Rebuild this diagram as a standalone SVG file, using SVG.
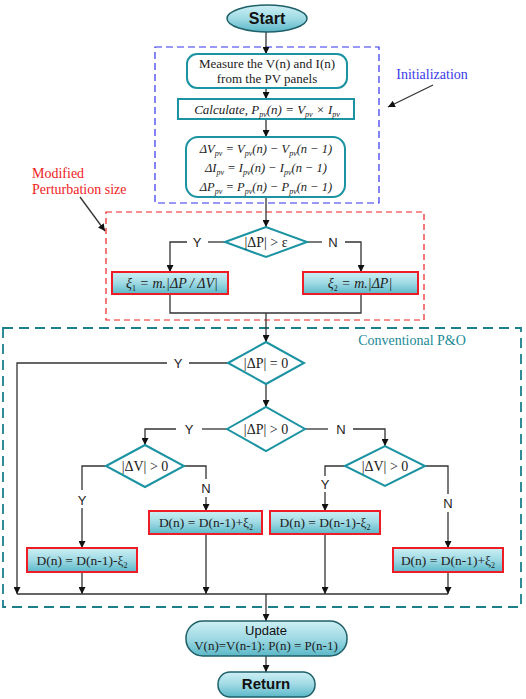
<svg xmlns="http://www.w3.org/2000/svg" width="526" height="699" viewBox="0 0 526 699">
<defs>
<linearGradient id="g" x1="0" y1="0" x2="0" y2="1">
<stop offset="0" stop-color="#cdeff4"/>
<stop offset="0.5" stop-color="#9fdae4"/>
<stop offset="1" stop-color="#5bb8c8"/>
</linearGradient>
<marker id="ar" viewBox="0 0 10 10" refX="10" refY="5" markerWidth="7" markerHeight="7" orient="auto" markerUnits="userSpaceOnUse">
<path d="M0,0 L10,5 L0,10 z" fill="#111"/>
</marker>
<style>
.c{fill:none;stroke:#333;stroke-width:1.3}
.a{marker-end:url(#ar)}
.pill{fill:url(#g);stroke:#1e5f68;stroke-width:1.5}
.bx{fill:#fff;stroke:#1b93a3;stroke-width:2}
.dm{fill:#fff;stroke:#1b93a3;stroke-width:2}
.rb{fill:url(#g);stroke:#ee1c24;stroke-width:2}
.s{font-family:"Liberation Sans",Arial,sans-serif}
.t{font-family:"Liberation Serif","Times New Roman",serif}
.i{font-style:italic}
.lbl{font-family:"Liberation Sans",Arial,sans-serif;font-size:13px;fill:#222;text-anchor:middle}
.eq{font-family:"Liberation Serif","Times New Roman",serif;fill:#222;text-anchor:middle}
.sub{font-size:8px}
</style>
</defs>

<!-- region boxes -->
<rect x="155" y="47" width="224" height="156" fill="none" stroke="#3333ee" stroke-width="1.2" stroke-dasharray="7,4"/>
<rect x="106" y="212" width="318" height="108" fill="none" stroke="#ee2020" stroke-width="1.2" stroke-dasharray="6,4"/>
<rect x="3" y="328" width="518" height="279" fill="none" stroke="#1a7f8a" stroke-width="1.8" stroke-dasharray="10,6"/>
<text x="412" y="345" class="t" font-size="14" fill="#1a8a96" text-anchor="middle">Conventional P&amp;O</text>
<text x="432" y="79" class="t" font-size="14" fill="#3a3ae8" text-anchor="middle">Initialization</text>
<text x="32" y="178" class="t" font-size="14" fill="#ee2222">Modified</text>
<text x="32" y="194" class="t" font-size="14" fill="#ee2222">Perturbation size</text>

<g id="connectors">
<path class="c a" d="M266,32 V54"/>
<path class="c a" d="M266,88 V99"/>
<path class="c a" d="M266,119 V137"/>
<path class="c a" d="M266,197 V227"/>
<path class="c" d="M225,242 H208"/>
<path class="c a" d="M187,242 H170 V272"/>
<path class="c" d="M307,242 H322"/>
<path class="c a" d="M345,242 H361 V272"/>
<path class="c" d="M170,294 V313 H361 V294"/>
<path class="c a" d="M266,313 V342"/>
<path class="c" d="M228,363 H189"/>
<path class="c a" d="M167,363 H17 V594"/>
<path class="c a" d="M266,384 V407"/>
<path class="c" d="M227,429 H202"/>
<path class="c a" d="M176,429 H145 V445"/>
<path class="c" d="M305,429 H328"/>
<path class="c a" d="M353,429 H385 V446"/>
<path class="c" d="M106,466 H82 V490"/>
<path class="c a" d="M82,508 V548"/>
<path class="c" d="M184,466 H206 V479"/>
<path class="c a" d="M206,497 V511"/>
<path class="c" d="M345,466 H325 V476"/>
<path class="c a" d="M325,492 V511"/>
<path class="c" d="M425,466 H448 V494"/>
<path class="c a" d="M448,512 V548"/>
<path class="c a" d="M82,572 V594"/>
<path class="c a" d="M206,534 V594"/>
<path class="c a" d="M325,534 V594"/>
<path class="c a" d="M448,572 V594"/>
<path class="c" d="M17,594 H448"/>
<path class="c a" d="M266,594 V621"/>
<path class="c a" d="M266,656 V672"/>
<path class="c a" d="M433,85 L388,107"/>
<path class="c a" d="M80,197 L105,231"/>
<text x="197" y="247" class="lbl">Y</text>
<text x="333" y="247" class="lbl">N</text>
<text x="178" y="368" class="lbl">Y</text>
<text x="189" y="434" class="lbl">Y</text>
<text x="341" y="434" class="lbl">N</text>
<text x="82" y="505" class="lbl">Y</text>
<text x="206" y="493" class="lbl">N</text>
<text x="325" y="489" class="lbl">Y</text>
<text x="448" y="508" class="lbl">N</text>
</g>

<g id="start">
<ellipse cx="267" cy="18.5" rx="40" ry="13.5" class="pill"/>
<text x="267" y="24" class="s" font-size="16" font-weight="bold" fill="#111" text-anchor="middle">Start</text>
</g>

<g id="measure">
<rect x="187" y="54" width="160" height="34" rx="10" class="bx"/>
<text x="267" y="68" class="eq" font-size="13">Measure the V(n) and I(n)</text>
<text x="267" y="83" class="eq" font-size="13">from the PV panels</text>
</g>

<g id="calculate">
<rect x="178" y="99" width="176" height="20" class="bx"/>
<text x="267" y="114" class="eq i" font-size="13">Calculate, P<tspan class="sub" dy="3">pv</tspan><tspan dy="-3">(n) = V</tspan><tspan class="sub" dy="3">pv</tspan><tspan dy="-3"> × I</tspan><tspan class="sub" dy="3">pv</tspan></text>
</g>

<g id="deltas">
<rect x="186" y="137" width="159" height="60" rx="12" class="bx"/>
<text x="266" y="153" class="eq i" font-size="12.5">ΔV<tspan class="sub" dy="3">pv</tspan><tspan dy="-3"> = V</tspan><tspan class="sub" dy="3">pv</tspan><tspan dy="-3">(n) − V</tspan><tspan class="sub" dy="3">pv</tspan><tspan dy="-3">(n − 1)</tspan></text>
<text x="266" y="172" class="eq i" font-size="12.5">ΔI<tspan class="sub" dy="3">pv</tspan><tspan dy="-3"> = I</tspan><tspan class="sub" dy="3">pv</tspan><tspan dy="-3">(n) − I</tspan><tspan class="sub" dy="3">pv</tspan><tspan dy="-3">(n − 1)</tspan></text>
<text x="266" y="191" class="eq i" font-size="12.5">ΔP<tspan class="sub" dy="3">pv</tspan><tspan dy="-3"> = P</tspan><tspan class="sub" dy="3">pv</tspan><tspan dy="-3">(n) − P</tspan><tspan class="sub" dy="3">pv</tspan><tspan dy="-3">(n − 1)</tspan></text>
</g>

<g id="dec-eps">
<path d="M225,242 L266,227 L307,242 L266,257 Z" class="dm"/>
<text x="266" y="247" class="eq" font-size="14">|ΔP| &gt; ε</text>
</g>

<g id="xi1">
<rect x="112" y="272" width="116" height="22" class="rb"/>
<text x="172" y="288" class="eq i" font-size="14">ξ<tspan class="sub" font-style="normal" dy="3">1</tspan><tspan dy="-3"> = m.|ΔP / ΔV|</tspan></text>
</g>

<g id="xi2">
<rect x="303" y="272" width="115" height="22" class="rb"/>
<text x="360" y="288" class="eq i" font-size="14">ξ<tspan class="sub" font-style="normal" dy="3">2</tspan><tspan dy="-3"> = m.|ΔP|</tspan></text>
</g>

<g id="dec-dp0">
<path d="M228,363 L266,342 L304,363 L266,384 Z" class="dm"/>
<text x="266" y="368" class="eq" font-size="14">|ΔP| = 0</text>
</g>

<g id="dec-dpgt">
<path d="M227,429 L266,407 L305,429 L266,451 Z" class="dm"/>
<text x="266" y="434" class="eq" font-size="14">|ΔP| &gt; 0</text>
</g>

<g id="dec-dv-left">
<path d="M106,466 L145,445 L184,466 L145,487 Z" class="dm"/>
<text x="145" y="471" class="eq" font-size="14">|ΔV| &gt; 0</text>
</g>

<g id="dec-dv-right">
<path d="M345,466 L385,446 L425,466 L385,486 Z" class="dm"/>
<text x="385" y="471" class="eq" font-size="14">|ΔV| &gt; 0</text>
</g>

<g id="d-ll">
<rect x="27" y="548" width="110" height="24" class="rb"/>
<text x="82" y="565" class="eq" font-size="13.5">D(n) = D(n-1)-ξ<tspan class="sub" dy="3">2</tspan></text>
</g>
<g id="d-lu">
<rect x="149" y="511" width="113" height="23" class="rb"/>
<text x="206" y="527" class="eq" font-size="13.5">D(n) = D(n-1)+ξ<tspan class="sub" dy="3">2</tspan></text>
</g>
<g id="d-ru">
<rect x="270" y="511" width="110" height="23" class="rb"/>
<text x="325" y="527" class="eq" font-size="13.5">D(n) = D(n-1)-ξ<tspan class="sub" dy="3">2</tspan></text>
</g>
<g id="d-rl">
<rect x="393" y="548" width="110" height="24" class="rb"/>
<text x="448" y="565" class="eq" font-size="13.5">D(n) = D(n-1)+ξ<tspan class="sub" dy="3">2</tspan></text>
</g>

<g id="update">
<rect x="186" y="621" width="161" height="35" rx="17" class="pill"/>
<text x="266" y="635" class="s" font-size="13" fill="#111" text-anchor="middle">Update</text>
<text x="266" y="650" class="eq" font-size="13">V(n)=V(n-1): P(n) = P(n-1)</text>
</g>

<g id="return">
<rect x="218" y="672" width="97" height="25" rx="12" class="pill"/>
<text x="266" y="689" class="s" font-size="15" font-weight="bold" fill="#111" text-anchor="middle">Return</text>
</g>
</svg>
